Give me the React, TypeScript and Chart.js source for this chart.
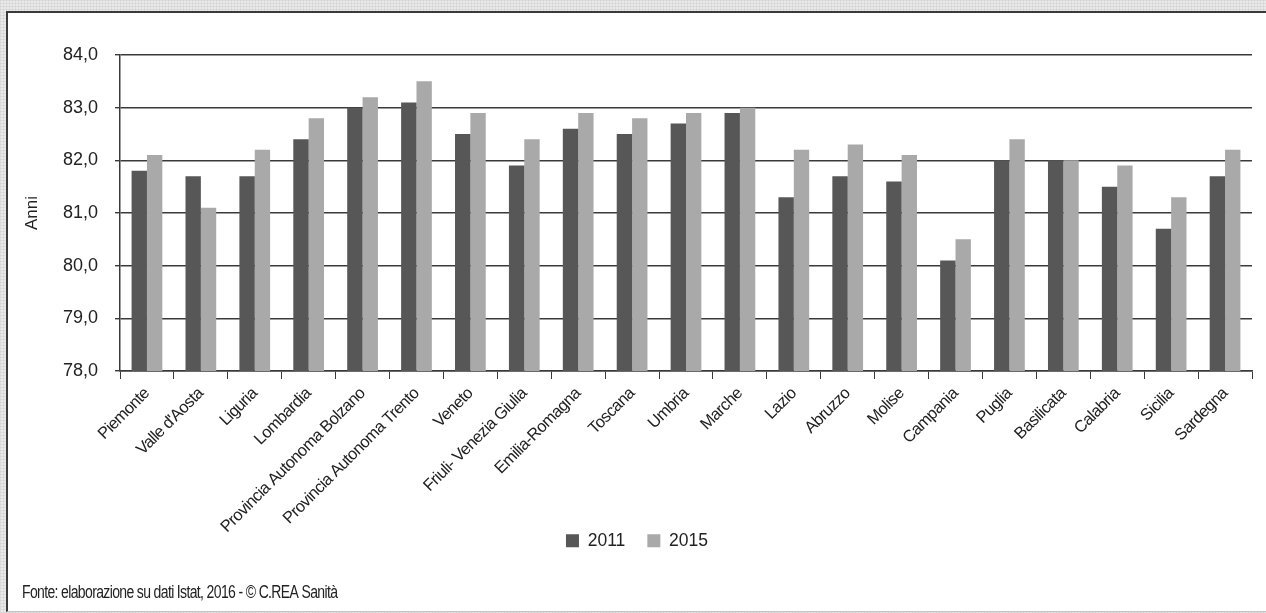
import React, { useEffect, useRef } from "react";
import { Chart, registerables } from "chart.js";

Chart.register(...registerables);

const regions = [
  "Piemonte",
  "Valle d'Aosta",
  "Liguria",
  "Lombardia",
  "Provincia Autonoma Bolzano",
  "Provincia Autonoma Trento",
  "Veneto",
  "Friuli- Venezia Giulia",
  "Emilia-Romagna",
  "Toscana",
  "Umbria",
  "Marche",
  "Lazio",
  "Abruzzo",
  "Molise",
  "Campania",
  "Puglia",
  "Basilicata",
  "Calabria",
  "Sicilia",
  "Sardegna",
];

const values2011 = [
  81.8, 81.7, 81.7, 82.4, 83.0, 83.1, 82.5, 81.9, 82.6, 82.5, 82.7,
  82.9, 81.3, 81.7, 81.6, 80.1, 82.0, 82.0, 81.5, 80.7, 81.7,
];

const values2015 = [
  82.1, 81.1, 82.2, 82.8, 83.2, 83.5, 82.9, 82.4, 82.9, 82.8, 82.9,
  83.0, 82.2, 82.3, 82.1, 80.5, 82.4, 82.0, 81.9, 81.3, 82.2,
];

const seriesLabels = ["2011", "2015"];
const yTicks = [78, 79, 80, 81, 82, 83, 84];
const axisTitle = "Anni";
const sourceNote = "Fonte: elaborazione su dati Istat, 2016 - © C.REA Sanità";

const FONT = "'Liberation Sans', Arial, sans-serif";
const TEXT = "#222222";
const LINE = "#3a3a3a";

// Source line under the legend, drawn in a narrowed face
const sourceNotePlugin = {
  id: "sourceNote",
  afterDraw(chart: any) {
    const ctx = chart.ctx as CanvasRenderingContext2D;
    ctx.save();
    ctx.font = `17.5px ${FONT}`;
    (ctx as any).letterSpacing = "-0.8px";
    ctx.fillStyle = TEXT;
    ctx.textAlign = "left";
    ctx.textBaseline = "middle";
    ctx.translate(14, 580);
    ctx.scale(0.8, 1);
    ctx.fillText(sourceNote, 0, 0);
    ctx.restore();
  },
};

export default function App() {
  const canvasRef = useRef<HTMLCanvasElement | null>(null);

  useEffect(() => {
    if (!canvasRef.current) return;
    const chart = new Chart(canvasRef.current, {
      type: "bar",
      data: {
        labels: regions,
        datasets: [
          {
            label: seriesLabels[0],
            data: values2011,
            backgroundColor: "#575757",
            categoryPercentage: 0.57,
            barPercentage: 1,
          },
          {
            label: seriesLabels[1],
            data: values2015,
            backgroundColor: "#a9a9a9",
            categoryPercentage: 0.57,
            barPercentage: 1,
          },
        ],
      },
      plugins: [sourceNotePlugin],
      options: {
        animation: false,
        responsive: false,
        maintainAspectRatio: false,
        layout: { padding: { left: 14, right: 14, top: 42, bottom: 51.5 } },
        plugins: {
          tooltip: { enabled: false },
          title: { display: false },
          legend: {
            position: "bottom",
            labels: {
              boxWidth: 13,
              boxHeight: 13,
              padding: 22,
              color: TEXT,
              font: { family: FONT, size: 17.5 },
            },
          },
        },
        scales: {
          x: {
            afterFit: (s: any) => {
              s.height = 139;
              if (!s.__tight) {
                s.__tight = true;
                // long rotated names run past the axis box; let them
                s._computeLabelArea = () => undefined;
                const draw = s.drawLabels;
                s.drawLabels = function (area: any) {
                  const ctx = this.ctx;
                  const prev = ctx.letterSpacing;
                  ctx.letterSpacing = "-0.6px";
                  draw.call(this, area);
                  ctx.letterSpacing = prev;
                };
              }
            },
            grid: {
              display: true,
              drawOnChartArea: false,
              drawTicks: true,
              tickLength: 8,
              color: LINE,
              offset: true,
            },
            border: { display: true, color: LINE, width: 1.5 },
            ticks: {
              autoSkip: false,
              minRotation: 45,
              maxRotation: 45,
              padding: 5,
              color: TEXT,
              font: { family: FONT, size: 16.5 },
            },
          },
          y: {
            min: 78,
            max: 84,
            afterFit: (s: any) => {
              s.width = 98;
            },
            afterBuildTicks: (s: any) => {
              s.ticks = yTicks.map((v) => ({ value: v }));
            },
            grid: {
              color: LINE,
              lineWidth: 1.4,
              drawTicks: true,
              tickLength: 5,
            },
            border: { display: true, color: LINE, width: 1.5 },
            ticks: {
              padding: 17,
              color: TEXT,
              font: { family: FONT, size: 18 },
              callback: (v: any) => Number(v).toFixed(1).replace(".", ","),
            },
            title: {
              display: true,
              text: axisTitle,
              color: TEXT,
              font: { family: FONT, size: 17 },
              padding: { top: 0, bottom: 0 },
            },
          },
        },
      },
    });
    return () => chart.destroy();
  }, []);

  return (
    <div
      style={{
        position: "absolute",
        left: 0,
        top: 0,
        width: 1266,
        height: 613,
        overflow: "hidden",
        backgroundColor: "#e9e9e9",
        backgroundImage:
          "repeating-linear-gradient(0deg, rgba(0,0,0,0.05) 0 1px, transparent 1px 3px), repeating-linear-gradient(90deg, rgba(0,0,0,0.05) 0 1px, transparent 1px 3px)",
      }}
    >
      <div
        style={{
          position: "absolute",
          left: 6,
          top: 11,
          width: 1260,
          height: 601,
          boxSizing: "border-box",
          background: "#ffffff",
          borderTop: "2px solid #3a3a3a",
          borderLeft: "2px solid #3a3a3a",
          borderBottom: "1px solid #c4c4c4",
        }}
      >
        <canvas ref={canvasRef} width={1258} height={598} style={{ display: "block" }} />
      </div>
    </div>
  );
}
